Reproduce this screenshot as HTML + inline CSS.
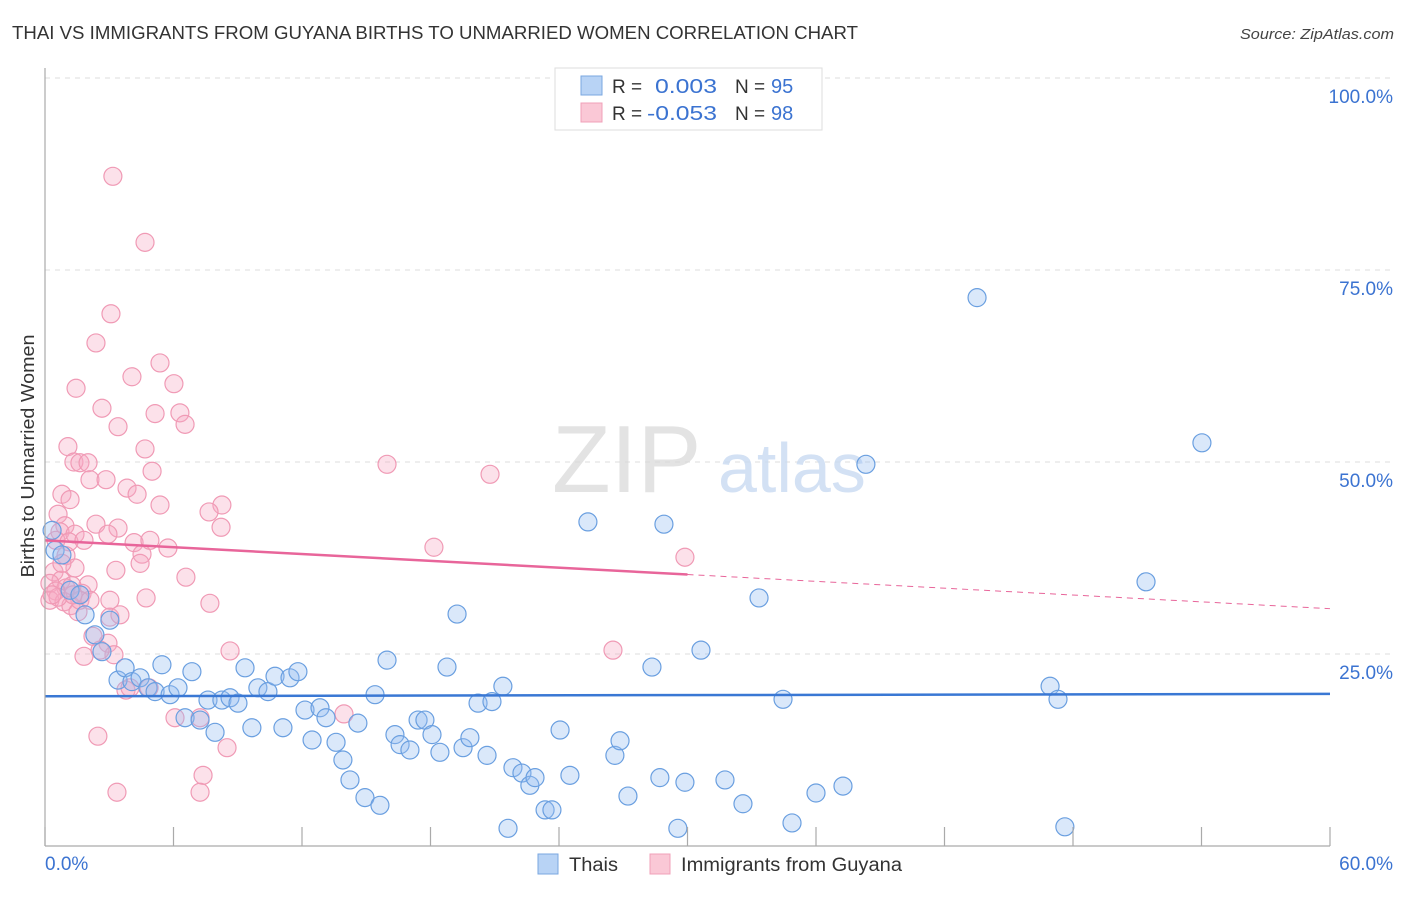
<!DOCTYPE html>
<html><head><meta charset="utf-8">
<style>
body{margin:0;background:#fff;font-family:"Liberation Sans",sans-serif;}
svg text{font-family:"Liberation Sans",sans-serif;}
</style></head>
<body>
<svg id="chart" width="1406" height="892" xmlns="http://www.w3.org/2000/svg">
<text x="12" y="39" font-size="18" fill="#333" textLength="846" lengthAdjust="spacingAndGlyphs">THAI VS IMMIGRANTS FROM GUYANA BIRTHS TO UNMARRIED WOMEN CORRELATION CHART</text>
<text x="1394" y="39" font-size="15" fill="#444" font-style="italic" text-anchor="end" textLength="154" lengthAdjust="spacingAndGlyphs">Source: ZipAtlas.com</text>
<g id="grid"></g>
<g>
<text x="552" y="492" font-size="96" fill="#d8d8d8" font-family="Liberation Serif" opacity="0.7">ZIP</text>
<text x="718" y="492" font-size="70" fill="#c9daf2" opacity="0.8">atlas</text>
</g>
<g id="points"></g>
<g id="trends"></g>
<g id="axes"></g>
<text transform="translate(34,456) rotate(-90)" font-size="18" fill="#333" text-anchor="middle" textLength="243" lengthAdjust="spacingAndGlyphs">Births to Unmarried Women</text>
<g>
<rect x="555" y="68" width="267" height="62" fill="#fff" stroke="#ddd"/>
<rect x="581" y="76" width="21" height="19" fill="#b8d3f5" stroke="#7aa7e0"/>
<rect x="581" y="103" width="21" height="19" fill="#fac8d6" stroke="#f0a0b8"/>
<text x="612" y="93" font-size="19" fill="#333">R =</text>
<text x="655" y="93" font-size="20" fill="#3b73d1" textLength="62" lengthAdjust="spacingAndGlyphs">0.003</text>
<text x="735" y="93" font-size="19" fill="#333">N =</text>
<text x="771" y="93" font-size="20" fill="#3b73d1">95</text>
<text x="612" y="120" font-size="19" fill="#333">R =</text>
<text x="647" y="120" font-size="20" fill="#3b73d1" textLength="70" lengthAdjust="spacingAndGlyphs">-0.053</text>
<text x="735" y="120" font-size="19" fill="#333">N =</text>
<text x="771" y="120" font-size="20" fill="#3b73d1">98</text>
</g>
<g>
<rect x="538" y="854" width="20" height="20" fill="#b8d3f5" stroke="#7aa7e0"/>
<text x="569" y="871" font-size="19" fill="#333" textLength="49" lengthAdjust="spacingAndGlyphs">Thais</text>
<rect x="650" y="854" width="20" height="20" fill="#fac8d6" stroke="#f0a0b8"/>
<text x="681" y="871" font-size="19" fill="#333" textLength="221" lengthAdjust="spacingAndGlyphs">Immigrants from Guyana</text>
</g>
</svg>
<script>
const blueX=[0.33,0.47,0.79,1.17,1.63,1.87,2.33,2.66,3.03,3.41,3.74,4.06,4.44,4.81,5.14,5.46,5.84,6.21,6.54,6.86,7.24,7.61,7.94,8.26,8.64,9.01,9.34,9.66,9.94,10.41,10.74,11.11,11.44,11.81,12.14,12.47,12.84,13.12,13.59,13.91,14.24,14.61,14.94,15.41,15.64,15.97,16.34,16.58,17.04,17.42,17.74,18.07,18.44,18.77,19.24,19.52,19.84,20.22,20.64,20.87,21.38,21.62,21.85,22.27,22.64,22.88,23.35,23.67,24.05,24.51,25.35,26.61,26.85,27.22,28.34,28.71,28.90,29.55,29.88,30.63,31.75,32.59,33.34,34.46,34.88,36.00,37.26,38.33,43.52,46.93,47.30,47.62,51.41,54.02];
const blueY=[41.1,38.5,37.9,33.3,32.7,30.1,27.5,25.3,29.4,21.6,23.2,21.4,21.9,20.6,20.1,23.6,19.7,20.6,16.7,22.7,16.4,19.0,14.8,19.0,19.3,18.6,23.2,15.4,20.6,20.1,22.1,15.4,21.9,22.7,17.7,13.8,18.0,16.7,13.5,11.2,8.6,16.0,6.3,19.7,5.3,24.2,14.5,13.2,12.5,16.4,16.4,14.5,12.2,23.3,30.2,12.8,14.1,18.6,11.8,18.8,20.8,2.3,10.2,9.5,7.9,8.9,4.7,4.7,15.1,9.2,42.2,11.8,13.7,6.5,23.3,8.9,41.9,2.3,8.3,25.5,8.6,5.5,32.3,19.1,3.0,6.9,7.8,49.7,71.4,20.8,19.1,2.5,34.4,52.5];
const pinkX=[3.17,4.67,3.08,2.38,5.37,4.06,6.02,1.45,2.66,5.14,6.30,6.54,3.41,4.67,1.07,5.00,1.35,1.63,2.01,2.10,2.85,3.83,4.30,0.79,1.17,5.37,8.26,7.66,0.61,2.38,0.93,3.41,8.22,0.70,1.40,2.94,0.51,1.12,4.16,5.74,4.53,0.98,4.44,3.31,0.42,1.40,6.58,0.75,0.23,2.01,1.26,0.98,0.51,1.73,4.72,7.70,0.23,0.89,1.21,1.54,3.03,2.24,2.94,1.82,3.22,8.64,3.78,4.86,6.07,7.24,13.96,8.50,2.47,7.38,3.36,7.24,15.97,20.78,18.16,29.88,26.52,1.63,0.61,0.79,1.82,3.03,1.31,2.10,0.33,2.57,3.50,3.97,4.90];
const pinkY=[87.2,78.6,69.3,65.5,62.9,61.1,60.2,59.6,57.0,56.3,56.4,54.9,54.6,51.7,52.0,48.8,50.0,49.9,49.9,47.7,47.7,46.6,45.8,45.8,45.1,44.4,44.4,43.5,43.2,41.9,41.7,41.4,41.5,40.9,40.6,40.6,39.8,39.6,39.5,38.8,38.0,37.8,36.8,35.9,35.7,36.2,35.0,34.6,34.2,34.0,33.9,33.6,33.2,32.9,32.3,31.6,32.0,31.8,31.3,30.5,29.8,27.3,26.4,24.7,24.9,25.4,20.3,20.6,16.7,16.7,17.2,12.8,14.3,9.2,7.0,7.0,49.7,48.4,38.9,37.6,25.5,32.0,32.4,36.8,39.8,32.0,32.7,32.0,32.7,25.5,30.1,20.6,39.8];
const yTicks=[25,50,75,100];
const yTickLabels=["25.0%","50.0%","75.0%","100.0%"];
const xTicks=[0,6,12,18,24,30,36,42,48,54,60];
const blueTrend=[19.5,19.8];
const pinkTrend=[39.8,30.9];
const pinkSolidEnd=30;

const NS="http://www.w3.org/2000/svg";
const X0=45,X1=1330,Y0=846,Y100=78;
function sx(v){return X0+(v/60)*(X1-X0);}
function sy(v){return Y0-(v/100)*(Y0-Y100);}
function mk(tag,attrs,parent){const e=document.createElementNS(NS,tag);for(const k in attrs)e.setAttribute(k,attrs[k]);parent.appendChild(e);return e;}
const grid=document.getElementById('grid'),axes=document.getElementById('axes'),pts=document.getElementById('points'),tr=document.getElementById('trends');
yTicks.forEach((t,i)=>{
  const l=mk('line',{x1:X0,x2:1393,y1:sy(t),y2:sy(t),stroke:'#dcdcdc','stroke-dasharray':'5,5'},grid);
  
  
  const tx=mk('text',{x:1393,y:sy(t)+25,'font-size':19,fill:'#3b73d1','text-anchor':'end'},axes);
  tx.textContent=yTickLabels[i];
  
  
});
mk('line',{x1:X0,x2:X0,y1:68,y2:Y0,stroke:'#aaa','stroke-width':1.2},axes);
mk('line',{x1:X0,x2:X1,y1:Y0,y2:Y0,stroke:'#aaa','stroke-width':1.2},axes);
xTicks.forEach(t=>{
  const l=mk('line',{x1:sx(t),x2:sx(t),y1:Y0-19,y2:Y0,stroke:'#aaa','stroke-width':1.2},axes);
  
  
});
const xl0=mk('text',{x:45,y:870,'font-size':19,fill:'#3b73d1'},axes);xl0.textContent="0.0%";


const xl1=mk('text',{x:1393,y:870,'font-size':19,fill:'#3b73d1','text-anchor':'end'},axes);xl1.textContent="60.0%";


pinkX.forEach((x,i)=>{
  const c=mk('circle',{cx:sx(x),cy:sy(pinkY[i]),r:9,fill:'rgba(246,170,195,0.35)',stroke:'#f09ab5','stroke-width':1.2},pts);
  
  
});
blueX.forEach((x,i)=>{
  const c=mk('circle',{cx:sx(x),cy:sy(blueY[i]),r:9,fill:'rgba(150,190,240,0.35)',stroke:'#6a9fe0','stroke-width':1.2},pts);
  
  
});
const bl=mk('line',{x1:sx(0),x2:sx(60),y1:sy(blueTrend[0]),y2:sy(blueTrend[1]),stroke:'#3a78d4','stroke-width':2.5},tr);


const pm=pinkTrend[0]+(pinkTrend[1]-pinkTrend[0])*pinkSolidEnd/60;
const pl=mk('line',{x1:sx(0),x2:sx(pinkSolidEnd),y1:sy(pinkTrend[0]),y2:sy(pm),stroke:'#e8659a','stroke-width':2.5},tr);


const pd=mk('line',{x1:sx(pinkSolidEnd),x2:sx(60),y1:sy(pm),y2:sy(pinkTrend[1]),stroke:'#e8659a','stroke-width':1,'stroke-dasharray':'6,5'},tr);


</script>
</body></html>
